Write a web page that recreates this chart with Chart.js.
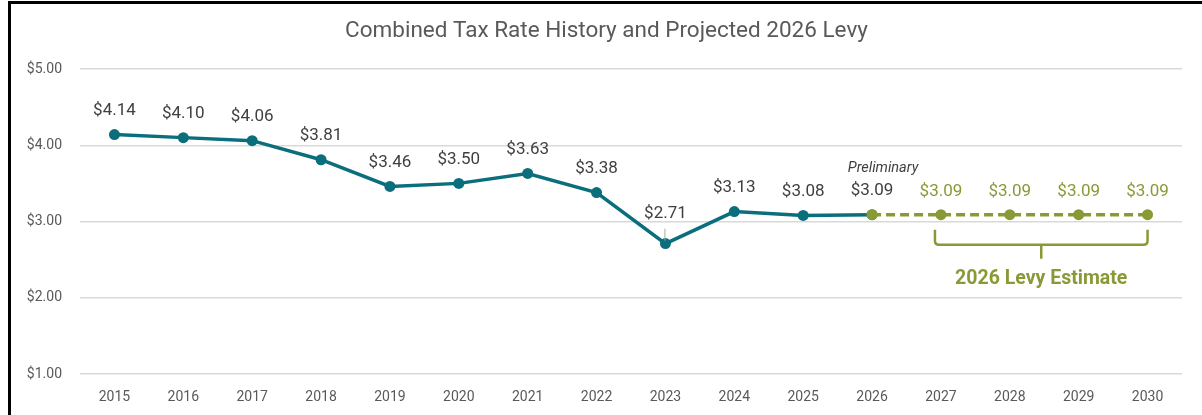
<!DOCTYPE html>
<html>
<head>
<meta charset="utf-8">
<script src="https://cdn.jsdelivr.net/npm/chart.js@4/dist/chart.umd.min.js"></script>
<style>
  html, body { margin: 0; padding: 0; background: #fff; }
  #wrap { position: relative; width: 1202px; height: 415px; }
  canvas { display: block; }
</style>
</head>
<body>
<div id="wrap"><canvas id="c" width="1202" height="415"></canvas></div>
<script>
// ---- data ----
const years = ['2015','2016','2017','2018','2019','2020','2021','2022','2023','2024','2025','2026','2027','2028','2029','2030'];
const historyRates = [4.14, 4.10, 4.06, 3.81, 3.46, 3.50, 3.63, 3.38, 2.71, 3.13, 3.08, 3.09, null, null, null, null];
const projectedRates = [null, null, null, null, null, null, null, null, null, null, null, 3.09, 3.09, 3.09, 3.09, 3.09];
const yTicks = [1, 2, 3, 4, 5];
const titleText = 'Combined Tax Rate History and Projected 2026 Levy';
const noteText = 'Preliminary';
const bracketText = '2026 Levy Estimate';

const TEAL = '#0A6E7D';
const OLIVE = '#889A36';
const FONT = 'Roboto, "Liberation Sans", sans-serif';

const money = v => '$' + v.toFixed(2);

const decorPlugin = {
  id: 'decor',
  beforeDraw(chart) {
    const ctx = chart.ctx;
    ctx.save();
    ctx.fillStyle = '#000';
    ctx.fillRect(8, 1, 3, 414);
    ctx.fillRect(8, 1, 1194, 3);
    // title, centred in the bordered frame
    ctx.font = '22.5px ' + FONT;
    ctx.fillStyle = '#595959';
    ctx.textAlign = 'center';
    ctx.textBaseline = 'middle';
    ctx.fillText(titleText, (11 + chart.width) / 2, 31);
    ctx.restore();
  },
  afterDatasetsDraw(chart) {
    const ctx = chart.ctx;
    const xs = chart.scales.x, ys = chart.scales.y;
    ctx.save();
    ctx.textAlign = 'center';
    ctx.textBaseline = 'middle';
    // history labels
    const m0 = chart.getDatasetMeta(0);
    m0.data.forEach((pt, i) => {
      const v = historyRates[i];
      if (v == null) return;
      ctx.font = '17px ' + FONT;
      ctx.fillStyle = '#404040';
      let off = 24;
      if (years[i] === '2023') {
        off = 30;
        ctx.strokeStyle = '#a6a6a6';
        ctx.lineWidth = 1;
        ctx.beginPath();
        ctx.moveTo(pt.x - 0.5, pt.y - 15);
        ctx.lineTo(pt.x - 0.5, pt.y - 3);
        ctx.stroke();
      }
      ctx.fillText(money(v), pt.x, pt.y - off);
    });
    // projected labels
    const m1 = chart.getDatasetMeta(1);
    m1.data.forEach((pt, i) => {
      const v = projectedRates[i];
      if (v == null || historyRates[i] != null) return;
      ctx.font = '17px ' + FONT;
      ctx.fillStyle = OLIVE;
      ctx.fillText(money(v), pt.x, pt.y - 23);
    });
    // preliminary note
    const iPrelim = years.indexOf('2026');
    const pp = m0.data[iPrelim];
    ctx.font = 'italic 14.5px ' + FONT;
    ctx.fillStyle = '#404040';
    ctx.fillText(noteText, pp.x + 11, pp.y - 46);
    // bracket
    const x1 = xs.getPixelForValue(years.indexOf('2027')) - 6;
    const x2 = xs.getPixelForValue(years.indexOf('2030'));
    const yb = ys.getPixelForValue(projectedRates[years.indexOf('2030')]);
    const top = yb + 15, hor = yb + 30, tip = yb + 44, r = 4;
    const xm = (x1 + x2) / 2;
    ctx.strokeStyle = OLIVE;
    ctx.lineWidth = 2.5;
    ctx.beginPath();
    ctx.moveTo(x1, top);
    ctx.lineTo(x1, hor - r);
    ctx.quadraticCurveTo(x1, hor, x1 + r, hor);
    ctx.lineTo(x2 - r, hor);
    ctx.quadraticCurveTo(x2, hor, x2, hor - r);
    ctx.lineTo(x2, top);
    ctx.moveTo(xm, hor);
    ctx.lineTo(xm, tip);
    ctx.stroke();
    ctx.font = 'bold 19.5px ' + FONT;
    ctx.fillStyle = OLIVE;
    ctx.fillText(bracketText, xm, yb + 64);
    ctx.restore();
  }
};

new Chart(document.getElementById('c'), {
  type: 'line',
  data: {
    labels: years,
    datasets: [
      {
        data: historyRates,
        borderColor: TEAL,
        backgroundColor: TEAL,
        borderWidth: 3.5,
        pointRadius: 5.5,
        pointBorderWidth: 0,
        pointBackgroundColor: TEAL,
        tension: 0,
        spanGaps: false,
        order: 2
      },
      {
        data: projectedRates,
        borderColor: OLIVE,
        backgroundColor: OLIVE,
        borderWidth: 3.5,
        borderDash: [9, 5],
        pointRadius: 5.5,
        pointBorderWidth: 0,
        pointBackgroundColor: OLIVE,
        tension: 0,
        order: 1
      }
    ]
  },
  options: {
    responsive: false,
    animation: false,
    devicePixelRatio: 1,
    layout: { padding: { left: 0, right: 20, top: 69, bottom: 0 } },
    plugins: {
      legend: { display: false },
      tooltip: { enabled: false },
      title: { display: false }
    },
    scales: {
      x: {
        offset: true,
        grid: { display: false, drawTicks: false },
        border: { display: false },
        ticks: { color: '#595959', font: { family: FONT, size: 14 }, padding: 15, maxRotation: 0 },
        afterFit(s) { s.height = 41; }
      },
      y: {
        min: 1, max: 5,
        afterBuildTicks(s) { s.ticks = yTicks.map(v => ({ value: v })); },
        grid: { color: '#d9d9d9', lineWidth: 1.5, drawTicks: false },
        border: { display: false },
        ticks: { color: '#595959', font: { family: FONT, size: 14 }, padding: 18, callback: v => money(v) },
        afterFit(s) { s.width = 80; }
      }
    }
  },
  plugins: [decorPlugin]
});
</script>
</body>
</html>
